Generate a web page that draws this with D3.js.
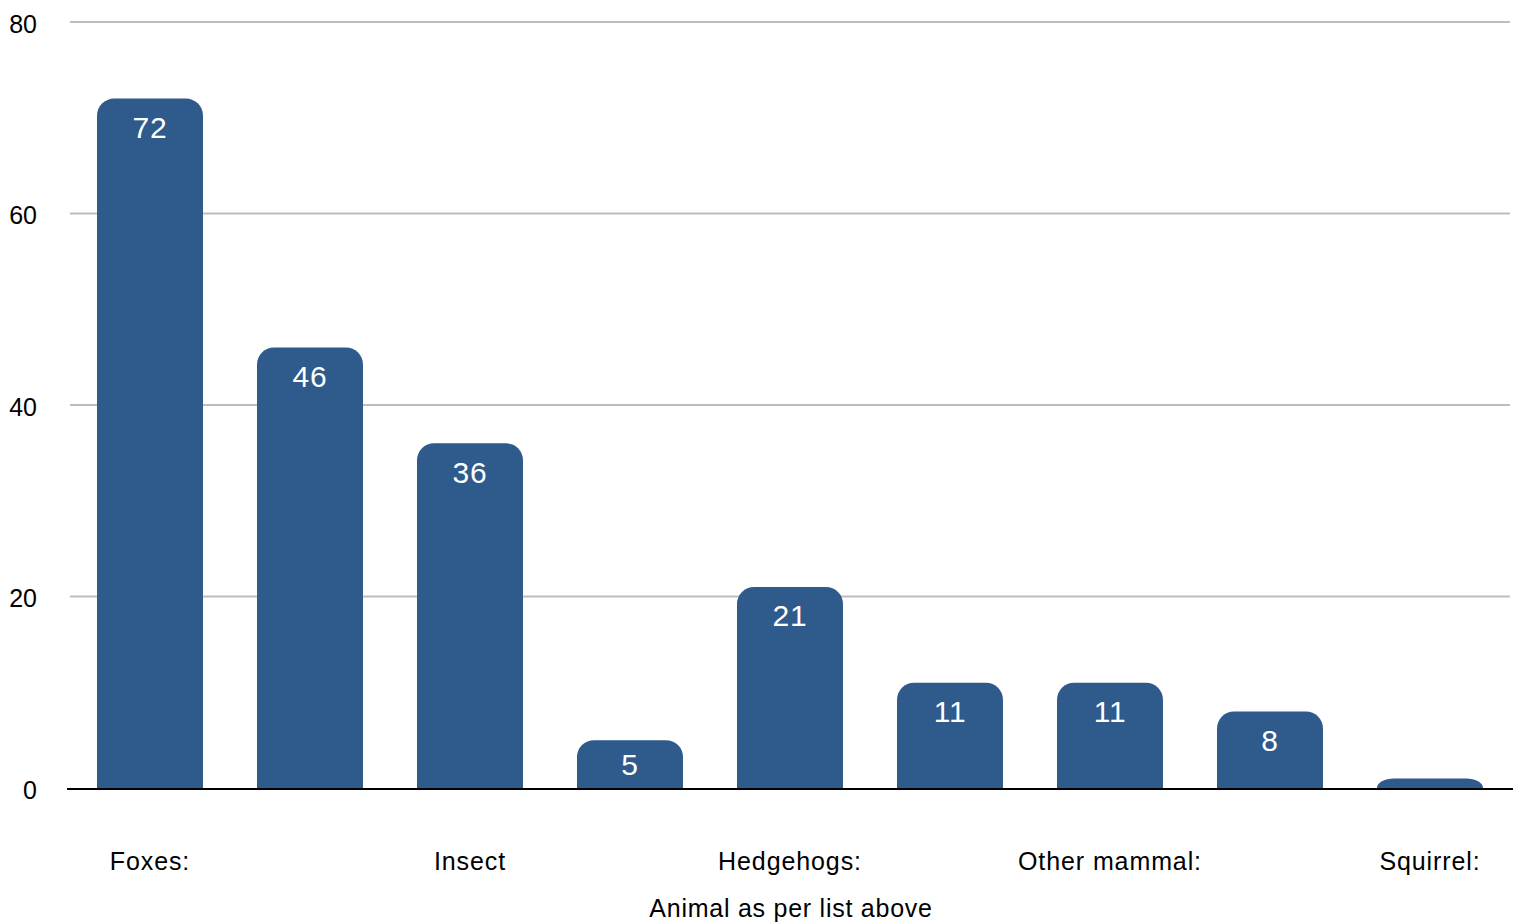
<!DOCTYPE html>
<html>
<head>
<meta charset="utf-8">
<script src="https://cdn.jsdelivr.net/npm/d3@7"></script>
<style>
  html, body { margin: 0; padding: 0; background: #fff; }
  svg { display: block; font-family: "Liberation Sans", Arial, Helvetica, sans-serif; }
</style>
</head>
<body>
<svg id="chart" width="1519" height="922"></svg>
<script>
const tickLabels = ["Foxes:", "", "Insect", "", "Hedgehogs:", "", "Other mammal:", "", "Squirrel:"];
const values = [72, 46, 36, 5, 21, 11, 11, 8, 1];
const yTicks = [0, 20, 40, 60, 80];
const xTitle = "Animal as per list above";

(function () {
const svg = d3.select("#chart");
const plotLeft = 70, plotRight = 1510, plotTop = 22, plotBottom = 788;

const x = d3.scaleBand().domain(d3.range(values.length)).range([plotLeft, plotRight]).paddingInner(0.3375).paddingOuter(0.16875);
const y = d3.scaleLinear().domain([0, 80]).range([plotBottom, plotTop]);

// gridlines
svg.append("g").selectAll("line").data(yTicks.filter(d => d > 0)).join("line")
  .attr("x1", plotLeft).attr("x2", plotRight)
  .attr("y1", d => y(d)).attr("y2", d => y(d))
  .attr("stroke", "#bdbdbd").attr("stroke-width", 2);

// y tick labels
svg.append("g").selectAll("text").data(yTicks).join("text")
  .attr("x", 37).attr("y", d => y(d) + 10.5)
  .attr("text-anchor", "end").attr("font-size", 25).attr("fill", "#000")
  .text(d => d);

// bars with rounded top
function barPath(x0, w, yTop, yBot) {
  const h = yBot - yTop;
  const rx = Math.min(17, w / 2);
  const ry = Math.min(17, h);
  return `M${x0},${yBot} L${x0},${yTop + ry} A${rx},${ry} 0 0 1 ${x0 + rx},${yTop} L${x0 + w - rx},${yTop} A${rx},${ry} 0 0 1 ${x0 + w},${yTop + ry} L${x0 + w},${yBot} Z`;
}
svg.append("g").selectAll("path").data(values).join("path")
  .attr("d", (d, i) => barPath(x(i), x.bandwidth(), y(d), y(0)))
  .attr("fill", "#2e5a8c");

// value labels
svg.append("g").selectAll("text").data(values.map((v, i) => ({ v, i })).filter(d => y(0) - y(d.v) > 30)).join("text")
  .attr("x", d => x(d.i) + x.bandwidth() / 2)
  .attr("y", d => Math.min(y(d.v) + 39.5, (y(d.v) + y(0)) / 2 + 10.5))
  .attr("text-anchor", "middle").attr("font-size", 30).attr("letter-spacing", "0.8px").attr("fill", "#fff")
  .text(d => d.v);

// baseline axis
svg.append("line").attr("x1", 67).attr("x2", 1513).attr("y1", y(0) + 1).attr("y2", y(0) + 1)
  .attr("stroke", "#000").attr("stroke-width", 2);

// category labels
svg.append("g").selectAll("text").data(tickLabels).join("text")
  .attr("x", (d, i) => x(i) + x.bandwidth() / 2)
  .attr("y", 869.5)
  .attr("text-anchor", "middle").attr("font-size", 25).attr("letter-spacing", "0.9px").attr("fill", "#000")
  .text(d => d);

// axis title
svg.append("text").attr("x", 791).attr("y", 916.5)
  .attr("text-anchor", "middle").attr("font-size", 25).attr("letter-spacing", "0.75px").attr("fill", "#000")
  .text(xTitle);
})();
</script>
</body>
</html>
